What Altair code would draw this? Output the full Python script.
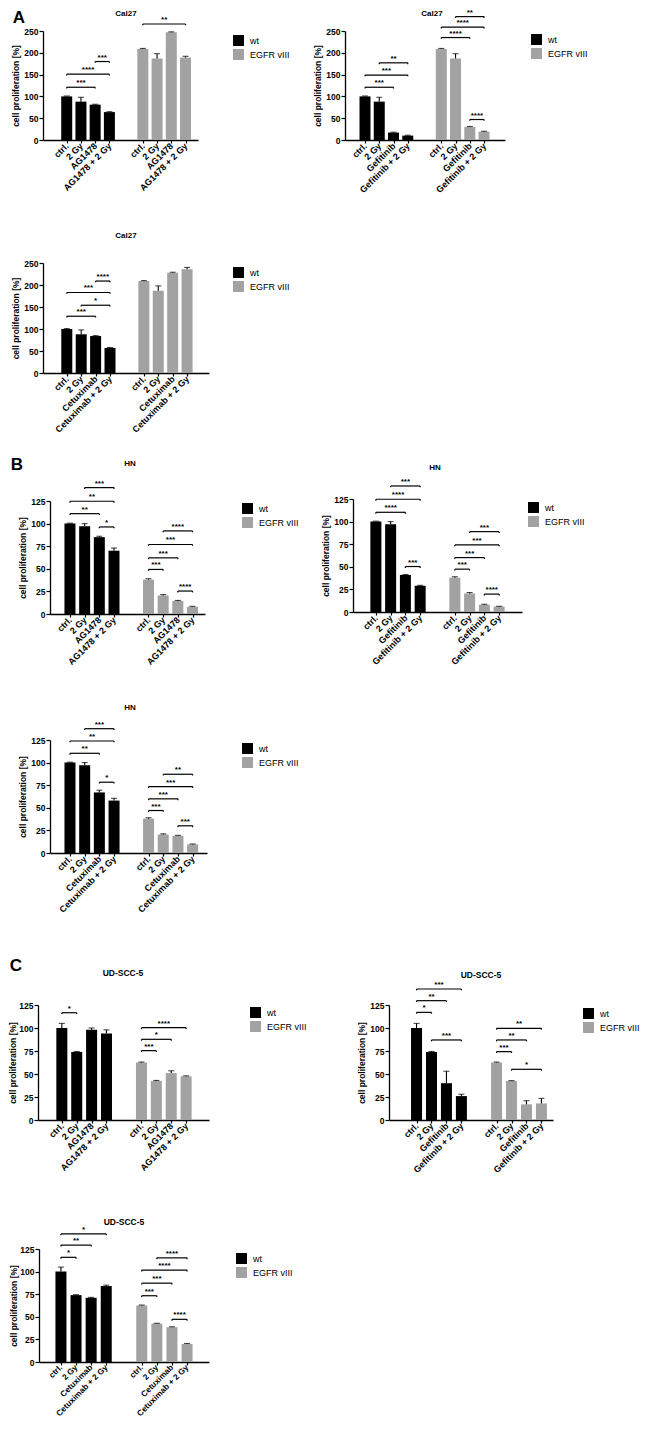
import altair as alt
import pandas as pd

GROUPS = ["wt", "EGFR vIII"]
COLORS = ["#000000", "#a2a2a2"]
TITLES = ["Cal27", "Cal27", "Cal27", "HN", "HN", "HN", "UD-SCC-5", "UD-SCC-5", "UD-SCC-5"]
DRUGS = ["AG1478", "Gefitinib", "Cetuximab"] * 3
YMAX = [250, 250, 250, 125, 125, 125, 125, 125, 125]
YSTEP = [50, 50, 50, 25, 25, 25, 25, 25, 25]
LETTERS = ["A", "B", "C"]

WT_MEAN = [
    [100, 88, 81, 64],
    [100, 88, 17, 10],
    [100, 88, 84, 57],
    [100, 97, 85, 70],
    [100, 97, 41, 29],
    [100, 97, 67, 58],
    [100, 74, 98, 94],
    [100, 74, 40, 26],
    [100, 74, 71, 84],
]
WT_ERR = [
    [1, 10, 1, 1],
    [1, 10, 1, 1],
    [1, 10, 1, 1],
    [0.5, 3, 1, 3],
    [0.5, 3, 0.5, 0.5],
    [0.5, 3, 2.5, 2.5],
    [5, 0.5, 2, 4],
    [5, 0.5, 13, 2],
    [5, 0.5, 0.5, 1],
]
V3_MEAN = [
    [209, 187, 247, 189],
    [209, 187, 30, 19],
    [209, 187, 228, 236],
    [38, 20.5, 14.5, 8],
    [38, 20.5, 8, 6],
    [38, 20.5, 19, 9.5],
    [62.5, 42.5, 51, 47.5],
    [62.5, 42.5, 17, 18],
    [62.5, 42.5, 38.5, 20],
]
V3_ERR = [
    [1, 11, 1, 3],
    [1, 11, 1, 1],
    [1, 11, 1, 4],
    [1, 1, 0.5, 0.5],
    [1, 1, 0.5, 0.3],
    [1, 0.7, 0.5, 0.5],
    [0.5, 0.5, 2.5, 0.5],
    [0.5, 0.3, 4, 5.5],
    [0.5, 0.3, 0.5, 0.5],
]
# significance brackets: (from bar, to bar, height, label); bars 0-3 = wt, 4-7 = EGFR vIII
BRACKETS = [
    [(2, 3, 180, "***"), (0, 3, 151, "****"), (0, 2, 121, "***"), (4, 7, 266, "**")],
    [(1, 3, 177, "**"), (0, 3, 149, "***"), (0, 2, 121, "***"), (5, 7, 283, "**"),
     (4, 7, 259, "****"), (4, 6, 235, "****"), (6, 7, 47, "****")],
    [(2, 3, 209, "****"), (0, 3, 183, "***"), (1, 3, 154, "*"), (0, 2, 129, "***")],
    [(1, 3, 139.8, "***"), (0, 3, 124.7, "**"), (0, 2, 111, "**"), (2, 3, 96.3, "*"),
     (5, 7, 91.9, "****"), (4, 7, 76.9, "***"), (4, 6, 62.1, "***"), (4, 5, 49.3, "***"),
     (6, 7, 25.4, "****")],
    [(1, 3, 139.4, "***"), (0, 3, 124.7, "****"), (0, 2, 110.3, "****"), (2, 3, 50.3, "***"),
     (5, 7, 88.9, "***"), (4, 7, 74.2, "***"), (4, 6, 60.2, "***"), (4, 5, 47.4, "***"),
     (6, 7, 19.8, "****")],
    [(1, 3, 137.5, "***"), (0, 3, 123.9, "**"), (0, 2, 110.3, "**"), (2, 3, 78.3, "*"),
     (5, 7, 87.1, "**"), (4, 7, 73.5, "***"), (4, 6, 59.9, "***"), (4, 5, 47, "***"),
     (6, 7, 30.1, "***")],
    [(0, 1, 116.6, "*"), (4, 7, 100.3, "****"), (4, 6, 87.7, "*"), (4, 5, 75.4, "***")],
    [(0, 3, 142.4, "***"), (0, 2, 129.7, "**"), (0, 1, 117, "*"), (1, 3, 87, "***"),
     (4, 7, 99.7, "**"), (4, 6, 87, "**"), (4, 5, 74.3, "***"), (5, 7, 55.1, "*")],
    [(0, 3, 141.7, "*"), (0, 2, 129.3, "**"), (0, 1, 115.8, "*"), (5, 7, 115.2, "****"),
     (4, 7, 101.7, "****"), (4, 6, 87.2, "***"), (4, 5, 73.3, "***"), (6, 7, 47.2, "****")],
]

# ---- layout (page pixels) ----
M = 8  # page margin
GAP = 2.35
POS = [0, 1, 2, 3, 3 + GAP, 4 + GAP, 5 + GAP, 6 + GAP]
# y-axis x, x-axis end, first bar centre, last bar centre, axis top y, axis zero y
LAYOUT = [
    (43, 198, 63, 190, 31, 140),
    (345, 505, 361, 488, 31, 140),
    (43, 209, 63, 191, 263, 373),
    (50, 205, 66, 197, 501, 614),
    (353, 522, 372, 503, 499, 612),
    (50, 207, 66, 197, 740, 853),
    (38, 209, 58, 190, 1005, 1120),
    (389, 553, 413, 546, 1005, 1120),
    (39, 209, 57, 191, 1249, 1362),
]
TITLE_POS = [(126, 14), (432, 14), (126, 236), (130, 464), (435, 468), (130, 708),
             (123, 973), (481, 975), (124, 1222)]
LEGEND_POS = [(233, 35), (531, 34), (233, 267), (242, 503), (528, 502), (242, 743),
              (250, 1007), (583, 1008), (236, 1253)]
LETTER_POS = [(19, 18), (17, 465), (16, 966)]
XLABEL_SIZE = [9, 9, 9, 9, 9, 9, 9, 9, 8.2]
YTITLE_PAD = [3, 3, 3, 3, 3, 3, 1.5, 3, 1]

FONT = "Liberation Sans"


def label_expr(labels):
    parts = []
    for i in range(len(POS) - 1):
        thr = (POS[i] + POS[i + 1]) / 2
        parts.append(f"datum.value < {thr:.3f} ? '{labels[i]}' : ")
    return "".join(parts) + f"'{labels[-1]}'"


layers = []
for k in range(9):
    yax, xend, b0, b7, ytop, yzero = LAYOUT[k]
    s = (b7 - b0) / POS[-1]
    dmin = (yax - b0) / s
    dmax = (xend - b0) / s
    xs = alt.Scale(domain=[dmin, dmax], range=[yax - M, xend - M], nice=False, zero=False)
    ys = alt.Scale(domain=[0, YMAX[k]], range=[yzero - M, ytop - M], nice=False, zero=True)

    conds = ["ctrl.", "2 Gy", DRUGS[k], DRUGS[k] + " + 2 Gy"]
    labels = conds + conds
    xaxis = alt.Axis(
        orient="bottom", offset=(yzero - M) - 1415, values=POS, labelExpr=label_expr(labels),
        labelAngle=-45, labelAlign="right", labelBaseline="middle", labelFontSize=XLABEL_SIZE[k],
        labelFontWeight="bold", labelFont=FONT, labelOverlap=False, labelFlush=False,
        labelBound=False, tickSize=3, title=None, grid=False, domainWidth=1.3, tickWidth=1.2,
        labelPadding=1,
    )
    yaxis = alt.Axis(
        orient="left", offset=-(yax - M), values=list(range(0, YMAX[k] + 1, YSTEP[k])),
        labelFontSize=8.5, labelFontWeight="bold", labelFont=FONT, tickSize=4,
        title="cell proliferation [%]", titleFontSize=8.5, titleFontWeight="bold",
        titleFont=FONT, titlePadding=YTITLE_PAD[k], grid=False, domainWidth=1.3,
        tickWidth=1.2, labelFlush=False, labelPadding=1,
    )

    rows = []
    for i in range(4):
        rows.append(dict(pos=POS[i], mean=WT_MEAN[k][i], top=WT_MEAN[k][i] + WT_ERR[k][i],
                         group=GROUPS[0], cond=conds[i]))
    for i in range(4):
        rows.append(dict(pos=POS[4 + i], mean=V3_MEAN[k][i], top=V3_MEAN[k][i] + V3_ERR[k][i],
                         group=GROUPS[1], cond=conds[i]))
    bars = pd.DataFrame(rows)

    tick = YMAX[k] * 0.012
    br = pd.DataFrame([dict(x1=POS[a], x2=POS[b], xm=(POS[a] + POS[b]) / 2, h=h, h2=h - tick, label=lab)
                       for a, b, h, lab in BRACKETS[k]])
    ends = pd.DataFrame([dict(xe=POS[a] if j == 0 else POS[b], h=h, h2=h - tick)
                         for a, b, h, lab in BRACKETS[k] for j in range(2)])

    lx, ly = LEGEND_POS[k]
    color = alt.Color(
        "group:N", scale=alt.Scale(domain=GROUPS, range=COLORS),
        legend=alt.Legend(orient="none", legendX=lx - M, legendY=ly - M, title=None,
                          symbolType="square", symbolSize=120, symbolStrokeWidth=0,
                          labelFontSize=9, labelFont=FONT, labelColor="black",
                          rowPadding=3, labelOffset=6, padding=0),
    )

    X = lambda f: alt.X(f, scale=xs, axis=xaxis)
    Y = lambda f: alt.Y(f, scale=ys, axis=yaxis)

    bar_layer = alt.Chart(bars).mark_bar(size=11).encode(
        x=X("pos:Q"), y=Y("mean:Q"), color=color)
    err_layer = alt.Chart(bars).mark_rule(color="black", strokeWidth=1.1).encode(
        x=X("pos:Q"), y=Y("mean:Q"), y2="top:Q")
    cap_layer = alt.Chart(bars).mark_tick(color="black", orient="horizontal", size=6, thickness=1.1).encode(
        x=X("pos:Q"), y=Y("top:Q"))
    hline = alt.Chart(br).mark_rule(color="black", strokeWidth=1.2).encode(
        x=X("x1:Q"), x2="x2:Q", y=Y("h:Q"))
    vend = alt.Chart(ends).mark_rule(color="black", strokeWidth=1.2).encode(
        x=X("xe:Q"), y=Y("h:Q"), y2="h2:Q")
    stars = alt.Chart(br).mark_text(baseline="bottom", dy=0, fontSize=8, fontWeight="bold",
                                    font=FONT, color="black").encode(
        x=X("xm:Q"), y=Y("h:Q"), text="label:N")
    tx, ty = TITLE_POS[k]
    title = alt.Chart(pd.DataFrame({"t": [TITLES[k]]})).mark_text(
        fontSize=8 if TITLES[k] != "UD-SCC-5" else 8.5, fontWeight="bold", font=FONT,
        color="black", baseline="middle", align="center").encode(
        x=alt.value(tx - M), y=alt.value(ty - M), text="t:N")

    panel = alt.layer(bar_layer, err_layer, cap_layer, hline, vend, stars, title)
    layers.append(panel)

for L, (px, py) in zip(LETTERS, LETTER_POS):
    layers.append(alt.Chart(pd.DataFrame({"t": [L]})).mark_text(
        fontSize=17, fontWeight="bold", font=FONT, color="black", baseline="middle",
        align="center").encode(x=alt.value(px - M), y=alt.value(py - M), text="t:N"))

chart = (
    alt.layer(*layers)
    .resolve_scale(x="independent", y="independent", color="independent")
    .resolve_axis(x="independent", y="independent")
    .resolve_legend(color="independent")
    .properties(width=634, height=1415, padding=0,
                autosize=alt.AutoSizeParams(type="none"))
    .configure_view(stroke=None)
    .configure_axis(domainColor="black", tickColor="black", labelColor="black", titleColor="black")
)

chart.save("out.html", embed_options={"renderer": "svg", "actions": False})
